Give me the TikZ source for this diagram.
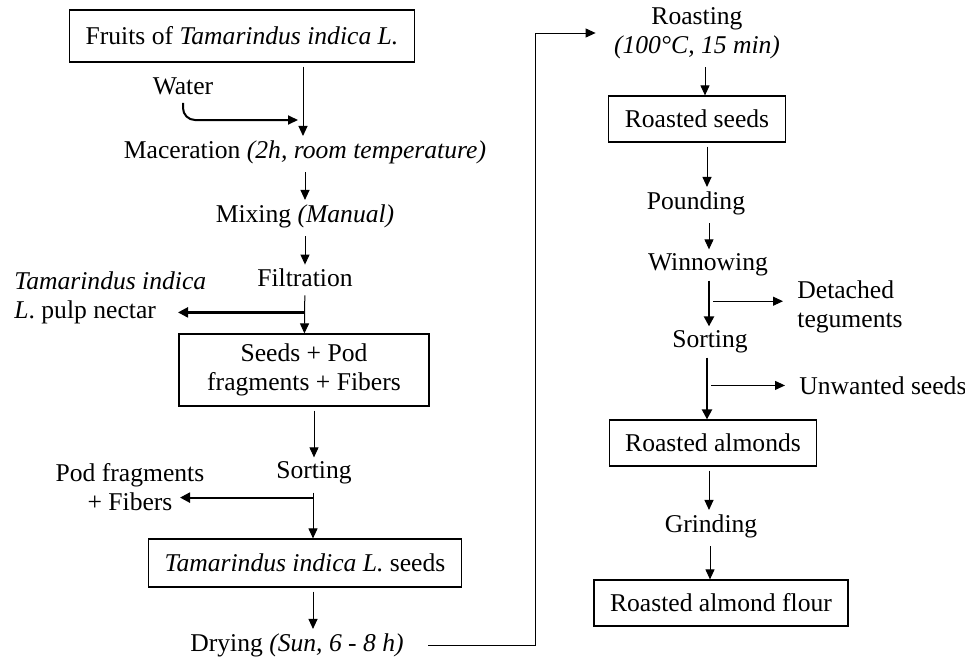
\documentclass[tikz,border=0pt]{standalone}
\usepackage{fontspec}
\setmainfont{Liberation Serif}
\usetikzlibrary{arrows.meta, positioning, calc}
\tikzset{
  box/.style   = {draw, line width=0.6pt, inner xsep=8pt, minimum height=24pt,
                  align=center},
  stage/.style = {align=center, inner sep=2pt},
  flow/.style  = {-{Triangle[length=5pt,width=4.5pt]}, line width=0.5pt,
                  shorten <=2pt},
  heavy/.style = {-{Triangle[length=5pt,width=5pt]}, line width=1.1pt}
}

\begin{document}
\begin{tikzpicture}[x=0.5pt, y=-0.5pt, font=\fontsize{12.8}{14.5}\selectfont]
\useasboundingbox (0,0) rectangle (965,659);
% ---- Left column ----
\node[box, minimum height=26pt] (fruits) at (242,36) {Fruits of \textit{Tamarindus indica L.}};
\node[stage] (water) at (183,86) {Water};
\node[stage] (mac) at (305,152) {Maceration \textit{(2h, room temperature)}};
\node[stage] (mix) at (305,216) {Mixing \textit{(Manual)}};
\node[stage] (filt) at (305,278) {Filtration};
\node[stage, align=left, anchor=west] (nectar) at (10,298) {\textit{Tamarindus indica}\\\textit{L}. pulp nectar};
\node[box, minimum width=125pt, minimum height=36pt] (seedpod) at (304,370) {Seeds + Pod\\fragments + Fibers};
\node[stage] (sort1) at (314,473) {Sorting};
\node[stage] (podfib) at (130,487) {Pod fragments\\+ Fibers};
\node[box] (tiseeds) at (305,563) {\textit{Tamarindus indica L.} seeds};
\node[stage] (dry) at (297,645) {Drying \textit{(Sun, 6 - 8 h)}};

% ---- Right column ----
\node[stage] (roast) at (697,33) {Roasting\\\textit{(100°C, 15 min)}};
\node[box, minimum height=23pt] (rseeds) at (697,119) {Roasted seeds};
\node[stage] (pound) at (696,203) {Pounding};
\node[stage] (winn) at (708,265) {Winnowing};
\node[stage, align=left, anchor=west] (teg) at (793,307) {Detached\\teguments};
\node[stage] (sort2) at (710,342) {Sorting};
\node[stage, anchor=west] (unw) at (795,386) {Unwanted seeds};
\node[box, minimum height=23pt] (ralm) at (713,443) {Roasted almonds};
\node[stage] (grind) at (711,526) {Grinding};
\node[box, minimum height=23pt] (flour) at (721,603) {Roasted almond flour};

% ---- Junctions ----
\coordinate (wbend) at (298,120);
\coordinate (j1) at ($(filt.south)!0.5!(seedpod.north)$);
\coordinate (j2) at ($(sort1.south)!0.18!(tiseeds.north)$);
\coordinate (j3) at ($(winn.south)!0.45!(sort2.north)$);
\coordinate (j4) at ($(sort2.south)!0.45!(ralm.north)$);
\coordinate (loop) at (535,645);

% ---- Main flow, left ----
\draw[flow] (fruits.south -| 303,0) -- (mac.north -| 303,0);
\draw[flow, line width=1pt, rounded corners=6pt] (water.south) |- (wbend);
\draw[flow] (mac) -- (mix);
\draw[flow] (mix) -- (filt);
\draw[flow] (filt) -- (seedpod);
\draw[heavy] (j1) -- (j1 -| 178,0);
\draw[flow] (seedpod.south -| sort1) -- (sort1);
\draw[flow] (sort1.south -| 313,0) -- (tiseeds.north -| 313,0);
\draw[heavy] (j2 -| 313,0) -- (j2 -| 180,0);
\draw[flow] (tiseeds.south -| 313,0) -- (dry.north -| 313,0);
\draw[flow] ([xshift=8pt]dry.east) -- (loop) |- ([xshift=-7pt]roast.west);

% ---- Main flow, right ----
\draw[flow] (roast.south -| 705,0) -- (rseeds.north -| 705,0);
\draw[flow] (rseeds.south -| 707,0) -- (pound.north -| 707,0);
\draw[flow] (pound.south -| 709,0) -- (winn.north -| 709,0);
\draw[heavy] (winn.south -| 709,0) -- (sort2.north -| 709,0);
\draw[flow] (j3 -| 709,0) -- ([xshift=-5pt]teg.west |- j3);
\draw[heavy] (sort2.south -| 707,0) -- (ralm.north -| 707,0);
\draw[flow] (j4 -| 707,0) -- ([xshift=-5pt]unw.west |- j4);
\draw[flow] (ralm.south -| 709,0) -- (grind.north -| 709,0);
\draw[flow] (grind.south -| 710,0) -- (flour.north -| 710,0);
\end{tikzpicture}
\end{document}
